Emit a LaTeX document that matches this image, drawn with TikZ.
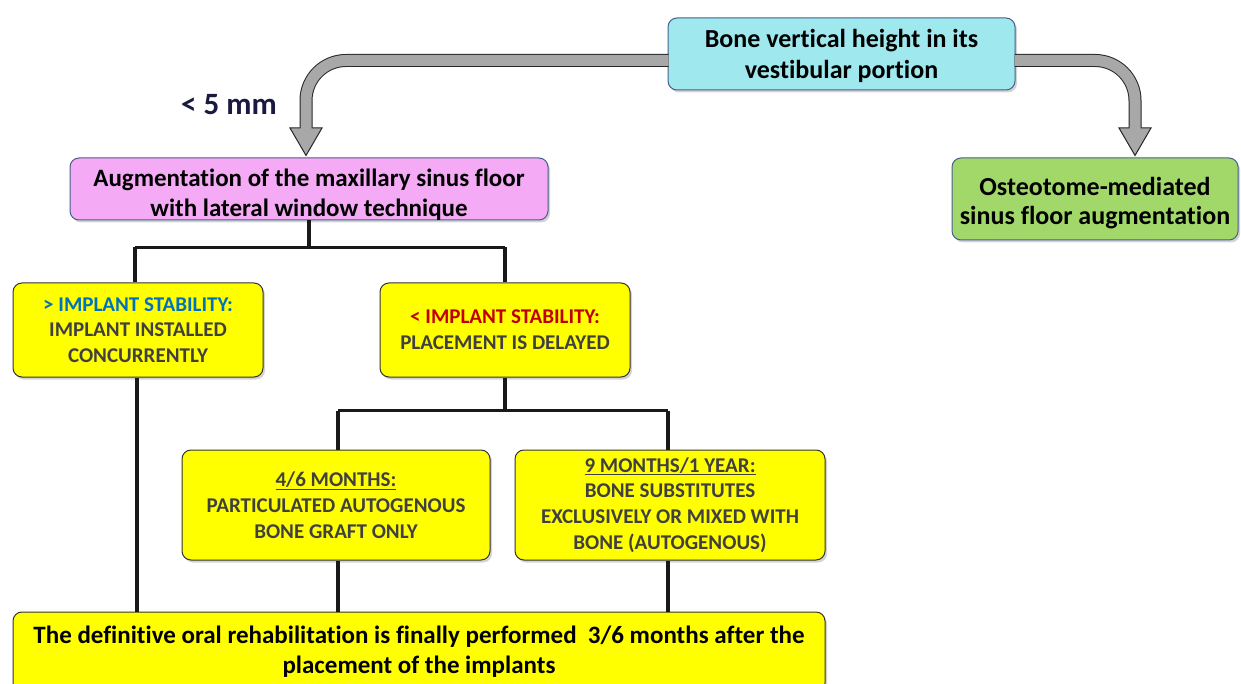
\documentclass[tikz,border=0pt]{standalone}
\usepackage{fontspec}
\setmainfont{Carlito}[RawFeature=-liga]
\usetikzlibrary{shadows,calc}
\definecolor{cyanfill}{RGB}{158,232,238}
\definecolor{pinkfill}{RGB}{245,170,245}
\definecolor{greenfill}{RGB}{162,216,106}
\definecolor{bluebord}{RGB}{70,95,140}
\definecolor{yel}{RGB}{255,255,0}
\definecolor{darktxt}{RGB}{64,64,64}
\definecolor{stabblue}{RGB}{0,112,192}
\definecolor{stabred}{RGB}{192,0,0}
\definecolor{arrgray}{RGB}{168,168,168}
\definecolor{navy}{RGB}{26,26,64}
\tikzset{
  box/.style={rounded corners=9pt, draw, line width=1pt, align=center, inner sep=0pt,
    font=\bfseries, drop shadow={opacity=0.35, shadow xshift=2pt, shadow yshift=-2.5pt}},
  topbox/.style={box, fill=cyanfill, draw=bluebord, font=\bfseries\fontsize{26}{31}\selectfont},
  pinkbox/.style={box, fill=pinkfill, draw=bluebord, font=\bfseries\fontsize{25}{30}\selectfont},
  greenbox/.style={box, fill=greenfill, draw=bluebord, font=\bfseries\fontsize{26}{29}\selectfont},
  ybox/.style={box, fill=yel, draw=black!80, text=darktxt, font=\bfseries\fontsize{21}{25.8}\selectfont},
  bbox/.style={box, fill=yel, draw=black!80, font=\bfseries\fontsize{25}{30}\selectfont},
  conn/.style={line width=3.5pt, draw=black!90},
  shaftout/.style={line width=13pt, draw=black!85, rounded corners=40pt},
  shaftin/.style={line width=11pt, draw=arrgray, rounded corners=40pt},
  head/.style={fill=arrgray, draw=black!85, line width=1pt, line join=miter},
}
\begin{document}
\begin{tikzpicture}[x=1pt,y=-1pt]
\useasboundingbox (0,0) rectangle (1241,684);
\clip (0,0) rectangle (1241,684);

% nodes
\node[topbox, minimum width=347pt, minimum height=72pt] (top) at (841.5,54) {\rule{0pt}{23pt}Bone vertical height in its\\vestibular portion};
\node[pinkbox, minimum width=478pt, minimum height=62pt] (pink) at (309,189) {\rule{0pt}{28pt}Augmentation of the maxillary sinus floor\\with lateral window technique};
\node[greenbox, minimum width=286pt, minimum height=82pt] (green) at (1095,199) {\rule{0pt}{26pt}Osteotome-mediated\\sinus floor augmentation};
\node[ybox, minimum width=250pt, minimum height=94pt] (y1) at (138,330) {{\color{stabblue}> IMPLANT STABILITY:}\\IMPLANT INSTALLED\\CONCURRENTLY};
\node[ybox, minimum width=250pt, minimum height=94pt] (y2) at (505,330) {{\color{stabred}< IMPLANT STABILITY:}\\PLACEMENT IS DELAYED};
\node[ybox, minimum width=308pt, minimum height=110pt] (y3) at (336,505) {\underline{4/6 MONTHS:}\\PARTICULATED AUTOGENOUS\\BONE GRAFT ONLY};
\node[ybox, minimum width=310pt, minimum height=110pt] (y4) at (670,505) {\underline{9 MONTHS/1 YEAR:}\\BONE SUBSTITUTES\\EXCLUSIVELY OR MIXED WITH\\BONE (AUTOGENOUS)};
\node[bbox, minimum width=812pt, minimum height=80pt] (bot) at (419,652) {The definitive oral rehabilitation is finally performed\ \ 3/6 months after the\\placement of the implants};

\node[text=navy, font=\bfseries\fontsize{31}{34}\selectfont, anchor=center] (lt5) at (229,105) {< 5 mm};

% block arrows
\coordinate (la0) at ($(top.west)+(1,6.5)$);
\coordinate (la1) at (306,129);
\coordinate (ra0) at ($(top.east)+(-1,6.5)$);
\coordinate (ra1) at (1135,129);
\draw[shaftout] (la0) -| (la1);
\draw[shaftout] (ra0) -| (ra1);
\draw[head] (290,128) -- (322,128) -- ($(pink.north -| la1)+(0,-2)$) -- cycle;
\draw[head] (1119,128) -- (1151,128) -- ($(green.north -| ra1)+(0,-2)$) -- cycle;
\draw[shaftin] (la0) -| ($(la1)+(0,1)$);
\draw[shaftin] (ra0) -| ($(ra1)+(0,1)$);

% connectors
\draw[conn] (pink.south) -- ++(0,27) coordinate (j1);
\draw[conn] (135,0 |- j1) -- (505,0 |- j1);
\draw[conn] (135,0 |- j1) -- (135,0 |- y1.north);
\draw[conn] (505,0 |- j1) -- (y2.north);
\draw[conn] (y2.south) -- ++(0,33) coordinate (j2);
\draw[conn] (338,0 |- j2) -- (668,0 |- j2);
\draw[conn] (338,0 |- j2) -- (338,0 |- y3.north);
\draw[conn] (668,0 |- j2) -- (668,0 |- y4.north);
\draw[conn] (137,0 |- y1.south) -- (137,0 |- bot.north);
\draw[conn] (338,0 |- y3.south) -- (338,0 |- bot.north);
\draw[conn] (668,0 |- y4.south) -- (668,0 |- bot.north);
\end{tikzpicture}
\end{document}
